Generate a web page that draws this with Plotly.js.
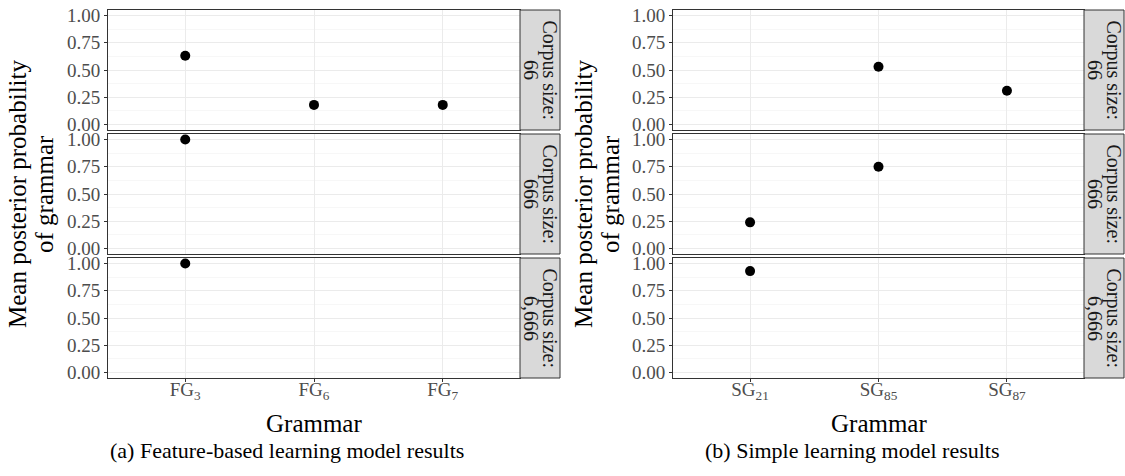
<!DOCTYPE html>
<html><head><meta charset="utf-8">
<script src="https://cdn.plot.ly/plotly-3.0.1.min.js"></script>
<style>html,body{margin:0;padding:0;background:#fff}</style>
</head><body><div id="chart" style="width:1125px;height:476px"></div>
<script>
// ---------- data ----------
const corpusSizes = ['66', '666', '6,666'];
const fgGrammars = ['FG3', 'FG6', 'FG7'];
const fgTickLabels = ['FG<sub>3</sub>', 'FG<sub>6</sub>', 'FG<sub>7</sub>'];
const sgGrammars = ['SG21', 'SG85', 'SG87'];
const sgTickLabels = ['SG<sub>21</sub>', 'SG<sub>85</sub>', 'SG<sub>87</sub>'];

// Feature-based learning model (mean posterior probability of grammar)
const fg66Grammar = ['FG3', 'FG6', 'FG7'];
const fg66Prob = [0.63, 0.18, 0.18];
const fg666Grammar = ['FG3'];
const fg666Prob = [1.0];
const fg6666Grammar = ['FG3'];
const fg6666Prob = [1.0];

// Simple learning model
const sg66Grammar = ['SG85', 'SG87'];
const sg66Prob = [0.53, 0.31];
const sg666Grammar = ['SG21', 'SG85'];
const sg666Prob = [0.24, 0.75];
const sg6666Grammar = ['SG21'];
const sg6666Prob = [0.93];

const yTitleLines = ['Mean posterior probability', 'of grammar'];
const xTitle = 'Grammar';
const captions = ['(a) Feature-based learning model results', '(b) Simple learning model results'];
const stripLabel = 'Corpus size:';

// ---------- layout helpers ----------
const W = 1125, H = 476;
const px = v => v / W;
const py = v => 1 - v / H;
const rowsPx = [[10, 130], [134, 254], [258, 378]];
const colsPx = [{plot: [108, 520], strip: [520, 560], ytitle: [17, 44]},
                {plot: [673, 1084], strip: [1084, 1124], ytitle: [583, 610]}];
const SERIF = 'Liberation Serif, Times New Roman, serif';

const panels = [
  {col: 0, row: 0, g: fg66Grammar, p: fg66Prob, cats: fgGrammars, ticks: fgTickLabels},
  {col: 0, row: 1, g: fg666Grammar, p: fg666Prob, cats: fgGrammars, ticks: fgTickLabels},
  {col: 0, row: 2, g: fg6666Grammar, p: fg6666Prob, cats: fgGrammars, ticks: fgTickLabels},
  {col: 1, row: 0, g: sg66Grammar, p: sg66Prob, cats: sgGrammars, ticks: sgTickLabels},
  {col: 1, row: 1, g: sg666Grammar, p: sg666Prob, cats: sgGrammars, ticks: sgTickLabels},
  {col: 1, row: 2, g: sg6666Grammar, p: sg6666Prob, cats: sgGrammars, ticks: sgTickLabels},
];

const data = [];
const layout = {
  width: W, height: H, autosize: false,
  margin: {l: 0, r: 0, t: 0, b: 0, pad: 0},
  paper_bgcolor: '#ffffff', plot_bgcolor: '#ffffff',
  showlegend: false,
  font: {family: SERIF, color: '#000'},
  shapes: [], annotations: []
};

panels.forEach((pn, i) => {
  const k = i + 1;
  const xa = 'xaxis' + (k === 1 ? '' : k), ya = 'yaxis' + (k === 1 ? '' : k);
  const xr = 'x' + (k === 1 ? '' : k), yr = 'y' + (k === 1 ? '' : k);
  const col = colsPx[pn.col], row = rowsPx[pn.row];
  const bottom = pn.row === 2;
  data.push({
    type: 'scatter', mode: 'markers', x: pn.g, y: pn.p, xaxis: xr, yaxis: yr,
    marker: {color: '#000', size: 10}, hoverinfo: 'x+y'
  });
  layout[xa] = {
    domain: [px(col.plot[0]), px(col.plot[1])], anchor: yr,
    type: 'category', categoryorder: 'array', categoryarray: pn.cats,
    range: [-0.6, 2.6], tickmode: 'array', tickvals: pn.cats, ticktext: pn.ticks,
    showticklabels: bottom, ticks: bottom ? 'outside' : '', ticklen: 3, tickcolor: '#333',
    ticklabelstandoff: -9,
    tickfont: {family: SERIF, size: 19, color: '#4D4D4D'},
    showgrid: true, gridcolor: '#EBEBEB', gridwidth: 1,
    showline: true, linecolor: '#333', linewidth: 1, mirror: true, zeroline: false,
    fixedrange: true
  };
  layout[ya] = {
    domain: [py(row[1]), py(row[0])], anchor: xr,
    range: [-0.05, 1.05], tickmode: 'linear', tick0: 0, dtick: 0.25, tickformat: '.2f',
    ticks: 'outside', ticklen: 3, tickcolor: '#333',
    tickfont: {family: SERIF, size: 19, color: '#4D4D4D'},
    showgrid: true, gridcolor: '#EBEBEB', gridwidth: 1,
    minor: {dtick: 0.125, tick0: 0, showgrid: true, gridcolor: '#F2F2F2', gridwidth: 0.6, ticks: ''},
    showline: true, linecolor: '#333', linewidth: 1, mirror: true, zeroline: false,
    fixedrange: true
  };
  // strip
  layout.shapes.push({
    type: 'rect', xref: 'paper', yref: 'paper',
    x0: px(col.strip[0]), x1: px(col.strip[1]), y0: py(row[1]), y1: py(row[0]),
    fillcolor: '#D9D9D9', line: {color: '#333', width: 1}, layer: 'above'
  });
  const sc = (col.strip[0] + col.strip[1]) / 2, rc = (row[0] + row[1]) / 2;
  layout.annotations.push({
    xref: 'paper', yref: 'paper', x: px(sc + 9.5), y: py(rc), text: stripLabel,
    textangle: 90, showarrow: false, xanchor: 'center', yanchor: 'middle',
    font: {family: SERIF, size: 20, color: '#1A1A1A'}
  });
  layout.annotations.push({
    xref: 'paper', yref: 'paper', x: px(sc - 9), y: py(rc), text: corpusSizes[pn.row],
    textangle: 90, showarrow: false, xanchor: 'center', yanchor: 'middle',
    font: {family: SERIF, size: 20, color: '#1A1A1A'}
  });
});

colsPx.forEach((col, c) => {
  const mid = (rowsPx[0][0] + rowsPx[2][1]) / 2;
  yTitleLines.forEach((t, j) => {
    layout.annotations.push({
      xref: 'paper', yref: 'paper', x: px(col.ytitle[j]), y: py(mid), text: t,
      textangle: -90, showarrow: false, xanchor: 'center', yanchor: 'middle',
      font: {family: SERIF, size: 25, color: '#000'}
    });
  });
  layout.annotations.push({
    xref: 'paper', yref: 'paper', x: px((col.plot[0] + col.plot[1]) / 2), y: py(423), text: xTitle,
    showarrow: false, xanchor: 'center', yanchor: 'middle',
    font: {family: SERIF, size: 25, color: '#000'}
  });
});
layout.annotations.push({
  xref: 'paper', yref: 'paper', x: px(287), y: py(450), text: captions[0],
  showarrow: false, xanchor: 'center', yanchor: 'middle', font: {family: SERIF, size: 22, color: '#000'}
});
layout.annotations.push({
  xref: 'paper', yref: 'paper', x: px(852), y: py(450), text: captions[1],
  showarrow: false, xanchor: 'center', yanchor: 'middle', font: {family: SERIF, size: 22, color: '#000'}
});

Plotly.newPlot('chart', data, layout, {displayModeBar: false, staticPlot: true});
</script></body></html>
